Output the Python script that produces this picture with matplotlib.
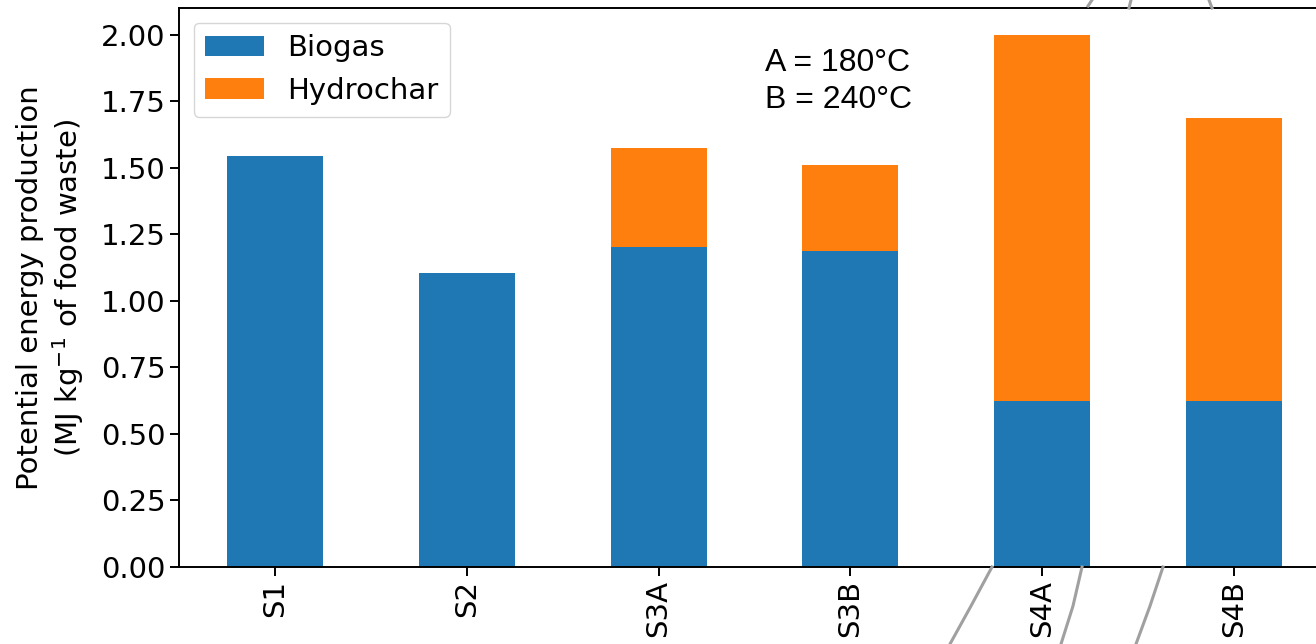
import matplotlib
matplotlib.use("Agg")
import matplotlib.pyplot as plt
from matplotlib.lines import Line2D
import numpy as np

# energy output per scenario (MJ per kg food waste)
scenarios = ["S1", "S2", "S3A", "S3B", "S4A", "S4B"]
biogas = [1.545, 1.105, 1.203, 1.188, 0.622, 0.622]
hydrochar = [0.0, 0.0, 0.370, 0.322, 1.378, 1.064]

k = 1.75
plt.rcParams["font.size"] = 12 * k
plt.rcParams["axes.linewidth"] = 0.8 * k
plt.rcParams["xtick.major.size"] = 3.5 * k
plt.rcParams["ytick.major.size"] = 3.5 * k
plt.rcParams["xtick.major.width"] = 0.8 * k
plt.rcParams["ytick.major.width"] = 0.8 * k

fig = plt.figure(figsize=(13.16, 6.44), dpi=100)
ax = fig.add_axes([179 / 1316, 77 / 644, 1151 / 1316, 559 / 644])

x = np.arange(len(scenarios))
ax.bar(x, biogas, width=0.5, color="#1f77b4", label="Biogas")
ax.bar(x, hydrochar, width=0.5, bottom=biogas, color="#ff7f0e", label="Hydrochar")

ax.set_xlim(-0.5, len(scenarios) - 0.5)
ax.set_ylim(0, 2.1)
ax.set_yticks(np.arange(0, 2.01, 0.25))
ax.set_yticklabels([f"{v:.2f}" for v in np.arange(0, 2.01, 0.25)])
ax.set_xticks(x)
ax.set_xticklabels(scenarios, rotation=90)
ax.set_ylabel("Potential energy production\n(MJ kg$^{-1}$ of food waste)")
ax.yaxis.set_label_coords(-0.081, 0.5)

ax.legend(loc="upper left", borderaxespad=0.5, handlelength=2.0)

fig.text(765 / 1316, 1 - 48 / 644, "A = 180°C\nB = 240°C", family="Liberation Sans",
         fontsize=23, ha="left", va="top", linespacing=1.3)

# grey connector strokes running outside the axes
grey = "#a0a0a0"
strokes = [
    ([992, 971, 950], [567, 606, 644]),
    ([1082, 1073, 1061], [567, 606, 644]),
    ([1163, 1150, 1136], [567, 606, 644]),
    ([1092, 1088], [0, 6]),
    ([1131, 1129], [0, 8]),
    ([1209, 1212], [0, 8]),
]
for xs, ys in strokes:
    fig.add_artist(Line2D([v / 1316 for v in xs], [1 - v / 644 for v in ys],
                          color=grey, linewidth=2.2, transform=fig.transFigure,
                          zorder=0.5))

fig.savefig("out.png", dpi=100)
